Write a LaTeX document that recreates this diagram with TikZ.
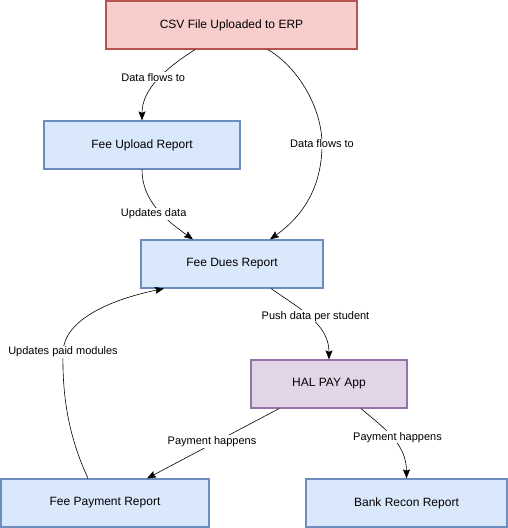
\documentclass[tikz,border=0pt]{standalone}
\usepackage{fontspec}
\setmainfont{Liberation Sans}
\usepackage{tikz}
\usetikzlibrary{positioning, arrows.meta}
\definecolor{srcfill}{HTML}{F8CECC}
\definecolor{srcline}{HTML}{B85450}
\definecolor{repfill}{HTML}{DAE8FC}
\definecolor{repline}{HTML}{6C8EBF}
\definecolor{appfill}{HTML}{E1D5E7}
\definecolor{appline}{HTML}{9673A6}

\begin{document}
\begin{tikzpicture}[x=1pt, y=-1pt,
    report/.style={draw=repline, fill=repfill, line width=1.2pt, inner sep=0pt,
                   minimum height=48pt, font=\fontsize{12}{14}\selectfont},
    source/.style={report, draw=srcline, fill=srcfill},
    app/.style={report, draw=appline, fill=appfill},
    tag/.style={fill=white, inner sep=1pt, font=\fontsize{11}{13}\selectfont},
    flow/.style={-{Stealth[length=9pt, width=7pt, inset=1.5pt]}, line width=0.6pt}]
    \useasboundingbox (0,0) rectangle (508,528);

    \node[source, minimum width=251pt] (csv) at (231.5,25) {CSV File Uploaded to ERP};
    \node[report, minimum width=196pt] (upload) at (142,145) {Fee Upload Report};
    \node[report, minimum width=182pt] (dues) at (232,264) {Fee Dues Report};
    \node[app, minimum width=156pt] (halpay) at (329,384) {HAL PAY App};
    \node[report, minimum width=208pt] (payment) at (105,503) {Fee Payment Report};
    \node[report, minimum width=201pt] (recon) at (406.5,503) {Bank Recon Report};

    % connectors
    \draw[flow] ([xshift=-36.5pt]csv.south) .. controls +(-30,19) and +(0,-31) .. (upload.north)
        node[tag, pos=0.45, xshift=-7pt] {Data flows to};
    \draw[flow] ([xshift=36.5pt]csv.south) .. controls +(32,19) and +(0,-34) .. (322,144)
        node[tag] (flowtag) {Data flows to}
        .. controls +(0,41) and +(35,-25) .. ([xshift=38pt]dues.north);
    \draw[flow] (upload.south) .. controls +(0,31) and +(-28,-20) .. ([xshift=-39pt]dues.north)
        node[tag, pos=0.58, xshift=-8pt] {Updates data};
    \draw[flow] ([xshift=39pt]dues.south) .. controls +(29,20) and +(0,-35) .. (halpay.north)
        node[tag, pos=0.45, xshift=8pt, yshift=-1pt] {Push data per student};
    \draw[flow] ([xshift=-50pt]halpay.south) -- ([xshift=42pt]payment.north)
        node[tag, pos=0.5, xshift=-1pt, yshift=2pt] {Payment happens};
    \draw[flow] ([xshift=32pt]halpay.south) .. controls +(24,20) and +(0,-34) .. (recon.north)
        node[tag, pos=0.42, xshift=9pt, yshift=-4pt] {Payment happens};
    \draw[flow] ([xshift=-17pt]payment.north) .. controls +(-18,-39) and +(-1,48) .. (63,352)
        node[tag] (paidtag) {Updates paid modules}
        .. controls +(1,-32) and +(-54,11) .. ([xshift=-68pt]dues.south);
  \end{tikzpicture}
\end{document}
